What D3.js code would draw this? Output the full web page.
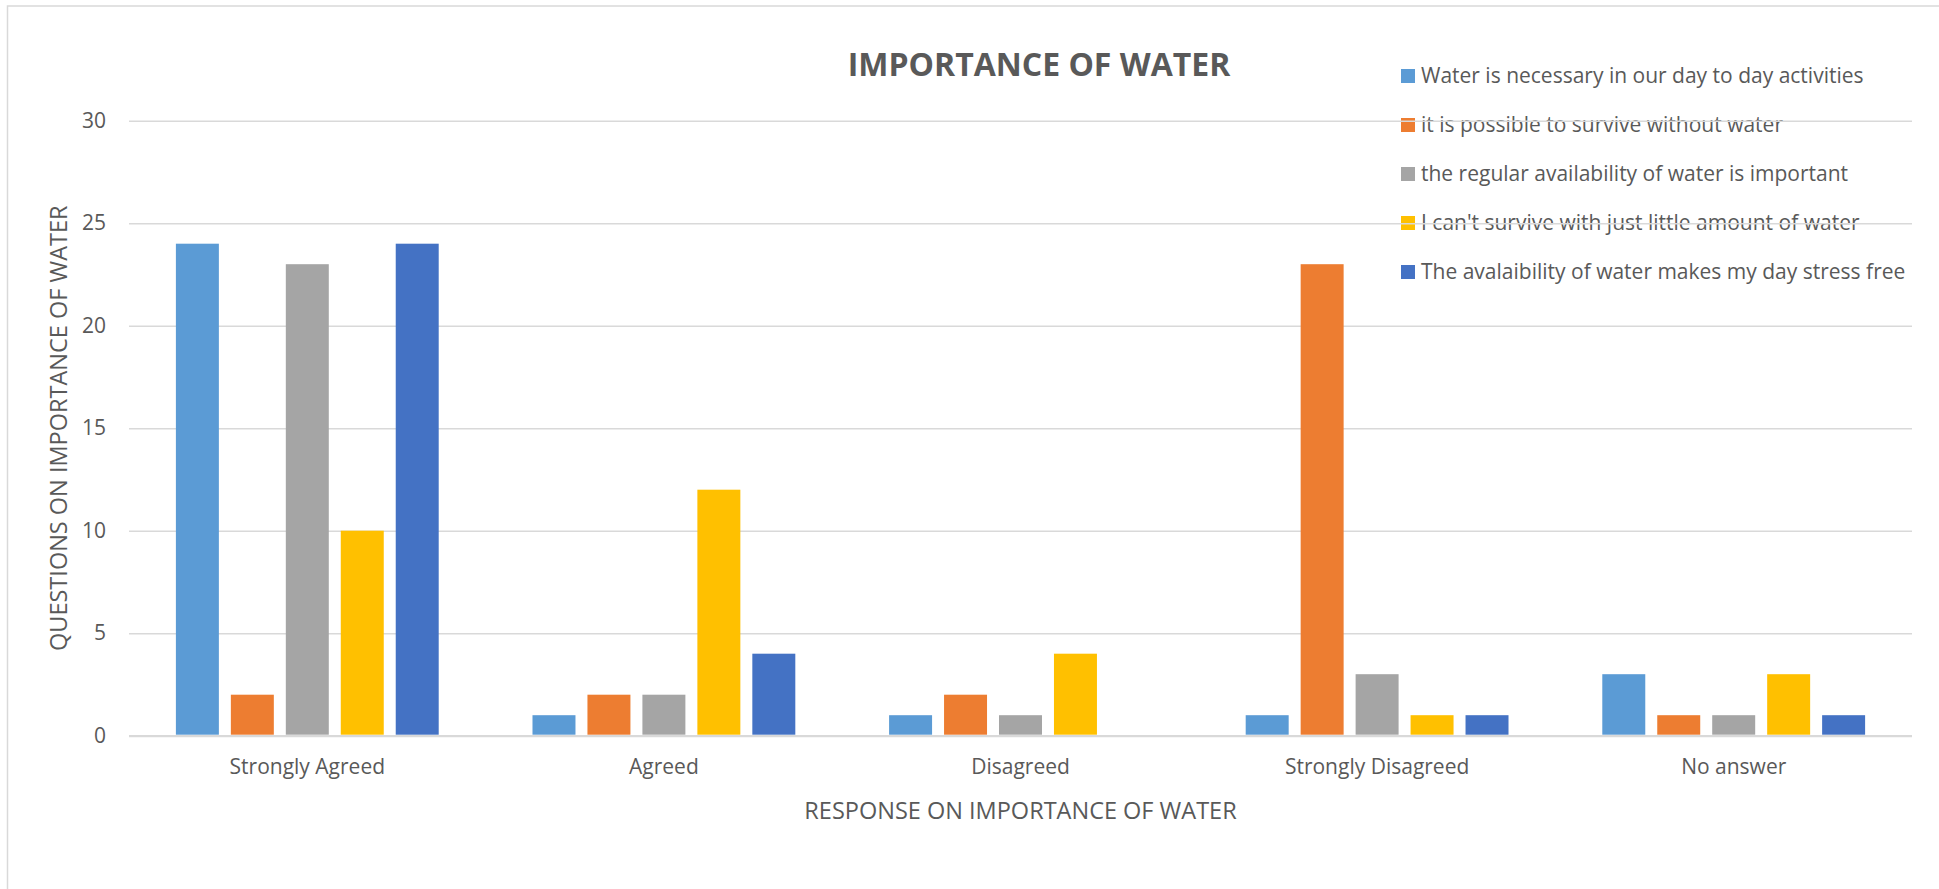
<!DOCTYPE html>
<html>
<head>
<meta charset="utf-8">
<script src="https://cdn.jsdelivr.net/npm/d3@7"></script>
<style>
  body { margin: 0; background: #fff; }
  text { font-family: "Open Sans", sans-serif; fill: #595959; }
</style>
</head>
<body>
<div id="visual"></div>
<script>
// data
const categories = ["Strongly Agreed", "Agreed", "Disagreed", "Strongly Disagreed", "No answer"];
const seriesNames = [
  "Water is necessary in our day to day activities",
  "it is possible to survive without water",
  "the regular availability of water is important",
  "I can't survive with just little amount of water",
  "The avalaibility of water makes my day stress free"
];
const necessary = [24, 1, 1, 1, 3];
const surviveWithout = [2, 2, 2, 23, 1];
const regularSupply = [23, 2, 1, 3, 1];
const littleAmount = [10, 12, 4, 1, 3];
const stressFree = [24, 4, 0, 1, 1];
const yTicks = [0, 5, 10, 15, 20, 25, 30];
const colors = ["#5B9BD5", "#ED7D31", "#A5A5A5", "#FFC000", "#4472C4"];

const seriesValues = [necessary, surviveWithout, regularSupply, littleAmount, stressFree];

const W = 1939, H = 889;
const plot = { left: 129, right: 1912, top: 120.7, bottom: 735.7 };

const svg = d3.select("#visual")
  .append("svg")
  .attr("width", W)
  .attr("height", H);

// chart border
svg.append("rect")
  .attr("x", 7.5).attr("y", 6)
  .attr("width", W).attr("height", H)
  .attr("fill", "none")
  .attr("stroke", "#d9d9d9")
  .attr("stroke-width", 1.5);

const y = d3.scaleLinear()
  .domain([0, 30])
  .range([plot.bottom, plot.top]);

const x0 = d3.scaleBand()
  .domain(categories)
  .range([plot.left, plot.right])
  .paddingInner(0.263)
  .paddingOuter(0.1315);

const x1 = d3.scaleBand()
  .domain(d3.range(seriesNames.length))
  .range([0, x0.bandwidth()])
  .paddingInner(0.218);

// legend (sits under the gridlines like in the original)
const legend = svg.append("g")
  .attr("class", "legend")
  .attr("transform", "translate(1401,76)");

const legendRows = legend.selectAll("g")
  .data(seriesNames)
  .enter()
  .append("g")
  .attr("transform", (d, i) => `translate(0,${i * 49})`);

legendRows.append("rect")
  .attr("x", 0).attr("y", -7)
  .attr("width", 14).attr("height", 14)
  .attr("fill", (d, i) => colors[i]);

legendRows.append("text")
  .attr("x", 20)
  .attr("y", 0)
  .attr("dy", "0.35em")
  .style("font-size", "21px")
  .text(d => d);

// y axis + gridlines
const yAxis = svg.append("g")
  .attr("class", "y-axis")
  .attr("transform", `translate(${plot.left},0)`)
  .call(d3.axisLeft(y)
    .tickValues(yTicks)
    .tickSize(-(plot.right - plot.left))
    .tickPadding(23));

yAxis.select(".domain").remove();
yAxis.selectAll(".tick line")
  .attr("stroke", "#d9d9d9")
  .attr("stroke-width", d => d === 0 ? 2.2 : 1.5);
yAxis.selectAll(".tick text")
  .style("font-size", "21px")
  .attr("fill", "#595959");

// bars
const groups = svg.append("g")
  .selectAll("g")
  .data(categories)
  .enter()
  .append("g")
  .attr("transform", d => `translate(${x0(d)},0)`);

groups.selectAll("rect")
  .data((d, ci) => seriesValues.map((vals, si) => ({ si: si, value: vals[ci] })))
  .enter()
  .append("rect")
  .attr("x", d => x1(d.si))
  .attr("y", d => y(d.value))
  .attr("width", x1.bandwidth())
  .attr("height", d => Math.max(0, y(0) - y(d.value) - 1))
  .attr("fill", d => colors[d.si]);

// x axis labels
const xAxis = svg.append("g")
  .attr("class", "x-axis")
  .attr("transform", `translate(0,${plot.bottom})`)
  .call(d3.axisBottom(x0).tickSize(0).tickPadding(23));

xAxis.select(".domain").remove();
xAxis.selectAll(".tick text")
  .style("font-size", "21px")
  .attr("fill", "#595959");

// titles
svg.append("text")
  .attr("x", 1039)
  .attr("y", 76)
  .attr("text-anchor", "middle")
  .style("font-size", "32px")
  .style("font-weight", "bold")
  .text("IMPORTANCE OF WATER");

svg.append("text")
  .attr("x", (plot.left + plot.right) / 2)
  .attr("y", 819)
  .attr("text-anchor", "middle")
  .style("font-size", "23.5px")
  .text("RESPONSE ON IMPORTANCE OF WATER");

svg.append("text")
  .attr("transform", `translate(67,${(plot.top + plot.bottom) / 2}) rotate(-90)`)
  .attr("text-anchor", "middle")
  .style("font-size", "23.5px")
  .text("QUESTIONS ON IMPORTANCE OF WATER");
</script>
</body>
</html>
